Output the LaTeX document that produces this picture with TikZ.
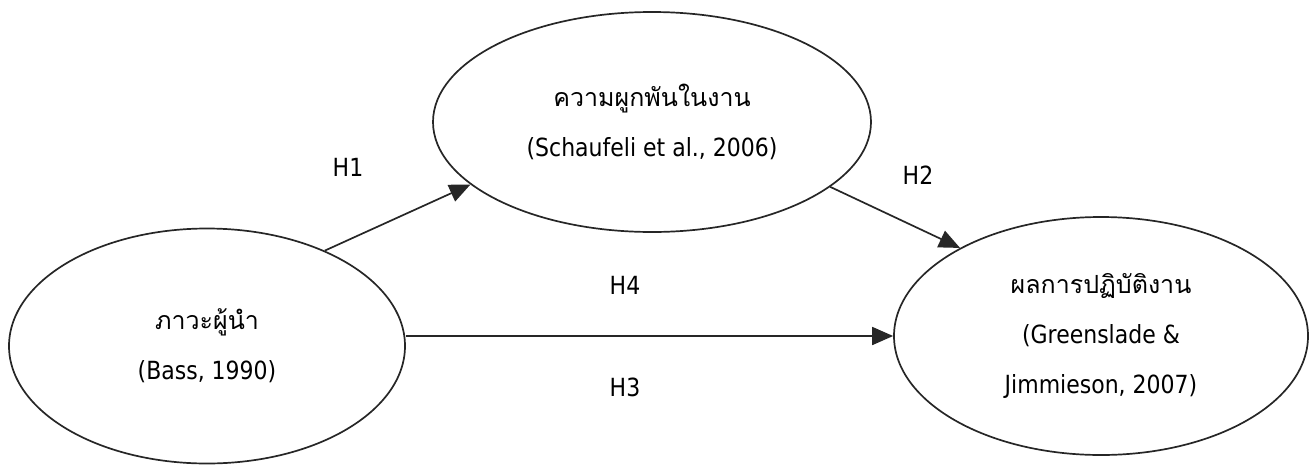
\documentclass[tikz,border=0pt]{standalone}
\usepackage{fontspec}
\setmainfont{DejaVu Sans}[FakeStretch=0.88]
\newfontfamily\thaifont[Script=Thai]{Loma}
\usetikzlibrary{arrows.meta,shapes.geometric}
\begin{document}
\begin{tikzpicture}[x=1pt,y=1pt,
  ell/.style={ellipse, draw=black!85, line width=1.7pt, align=center, inner sep=0pt,
    font=\fontsize{25}{50}\selectfont},
  conn/.style={line width=1.7pt, draw=black!85, -{Triangle[length=21pt,width=18pt]}},
  hlab/.style={font=\fontsize{25}{30}\selectfont, inner sep=0pt}]
\useasboundingbox (0,0) rectangle (1311,-466);
\node[ell, minimum width=396pt, minimum height=235pt] (lead) at (207,-346)
  {{\thaifont ภาวะผู้นำ}\\(Bass, 1990)};
\node[ell, minimum width=438pt, minimum height=220pt] (eng) at (652,-122)
  {{\thaifont ความผูกพันในงาน}\\(Schaufeli et al., 2006)};
\node[ell, minimum width=414pt, minimum height=238pt] (perf) at (1101,-336)
  {{\thaifont ผลการปฏิบัติงาน}\\(Greenslade \&\\Jimmieson, 2007)};
\draw[conn] (lead.39) -- (eng.199);
\draw[conn] (eng.340.5) -- (perf.148);
\draw[conn] (lead.east |- perf.west) -- (perf.west);
\node[hlab] (h1) at (348,-167) {H1};
\node[hlab] (h2) at (918,-175) {H2};
\node[hlab] (h4) at (625,-285) {H4};
\node[hlab] (h3) at (625,-387) {H3};
\end{tikzpicture}
\end{document}
